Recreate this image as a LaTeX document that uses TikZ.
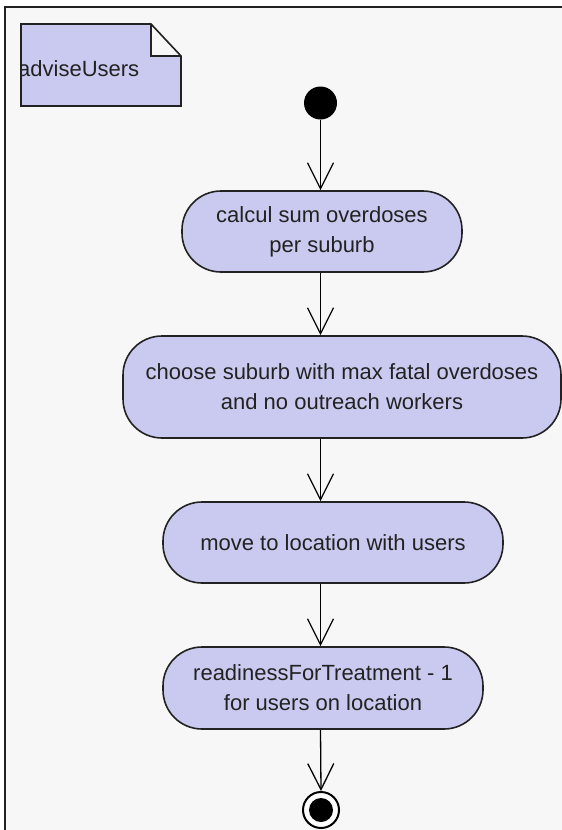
\documentclass[tikz,border=0pt]{standalone}
\usepackage{fontspec}
\setmainfont{Liberation Sans}
\usetikzlibrary{arrows.meta}
\definecolor{actfill}{RGB}{202,202,240}
\definecolor{canvas}{RGB}{247,247,247}
\definecolor{ink}{RGB}{34,34,34}
\begin{document}
\begin{tikzpicture}[x=1pt,y=-1pt,
  action/.style={draw=ink, line width=1.6pt, fill=actfill, rounded corners=39pt,
    align=center, font=\fontsize{22}{30}\selectfont, text=ink, inner sep=0pt},
  flow/.style={draw=black, line width=1.3pt,
    -{Straight Barb[length=26pt,width=26pt,line width=1.3pt]}},
  frameline/.style={draw=ink, line width=2pt}]
% canvas and diagram frame
\useasboundingbox (0,0) rectangle (562,830);
\fill[white] (-5,-5) rectangle (570,840);
\fill[canvas] (5,7) rectangle (570,840);
\draw[frameline] (5,840) -- (5,7) -- (570,7);

% activity name note with folded corner
\path[fill=actfill] (21,24) -- (151,24) -- (181,56) -- (181,106) -- (21,106) -- cycle;
\begin{scope}
  \clip (21,24) -- (151,24) -- (181,56) -- (181,106) -- (21,106) -- cycle;
  \node[anchor=base west, inner sep=0pt, text=ink, font=\fontsize{22}{30}\selectfont]
    (notelabel) at (18,76) {adviseUsers};
\end{scope}
\draw[draw=ink, line width=1.6pt, fill=canvas] (151,24) -- (151,56) -- (181,56);
\draw[draw=ink, line width=1.6pt] (21,24) -- (151,24) -- (181,56) -- (181,106) -- (21,106) -- cycle;

% start and end
\node[circle, fill=black, minimum size=33pt, inner sep=0pt] (init) at (320.5,103) {};
\node[circle, draw=black, line width=2pt, fill=white, minimum size=36pt, inner sep=0pt]
  (final) at (321,810) {};
\node[circle, fill=black, minimum size=24pt, inner sep=0pt] (finaldot) at (final.center) {};

% actions
\node[action, minimum width=280pt, minimum height=81pt] (a1) at (322,231.5)
  {calcul sum overdoses\\per suburb};
\node[action, minimum width=438pt, minimum height=102pt] (a2) at (342,387)
  {choose suburb with max fatal overdoses\\and no outreach workers};
\node[action, minimum width=340pt, minimum height=81pt] (a3) at (333,542.5)
  {move to location with users};
\node[action, minimum width=320pt, minimum height=82pt] (a4) at (323,688)
  {readinessForTreatment - 1\\for users on location};

% control flow
\draw[flow] (init.south) -- (init |- a1.north);
\draw[flow] (init |- a1.south) -- (init |- a2.north);
\draw[flow] (init |- a2.south) -- (init |- a3.north);
\draw[flow] (init |- a3.south) -- (init |- a4.north);
\draw[flow] (init |- a4.south) -- (final.north);
\end{tikzpicture}
\end{document}
